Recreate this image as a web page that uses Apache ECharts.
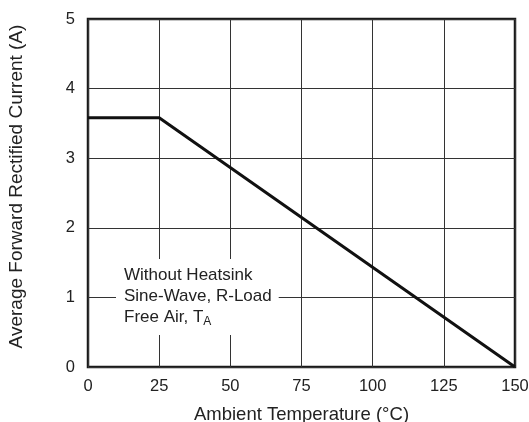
<!DOCTYPE html>
<html>
<head>
<meta charset="utf-8">
<script src="https://cdn.jsdelivr.net/npm/echarts@6/dist/echarts.min.js"></script>
<style>
html,body{margin:0;padding:0;background:#fff;}
#c{width:529px;height:422px;}
</style>
</head>
<body>
<div id="c"></div>
<script>
var temperature = [0, 25, 150];
var current = [3.58, 3.58, 0];
var xTicks = [0, 25, 50, 75, 100, 125, 150];
var yTicks = [0, 1, 2, 3, 4, 5];
var noteLines = ['Without Heatsink', 'Sine-Wave, R-Load', 'Free Air, T'];
var noteSub = 'A';

var chart = echarts.init(document.getElementById('c'), null, {renderer: 'canvas'});
var FONT = 'Liberation Sans, Arial, Helvetica, sans-serif';
var data = temperature.map(function (t, i) { return [t, current[i]]; });

chart.setOption({
  animation: false,
  backgroundColor: '#fff',
  grid: {left: 88, right: 14, top: 19, bottom: 55, show: true, borderColor: '#1a1a1a', borderWidth: 2.5,
         backgroundColor: 'transparent', containLabel: false, outerBoundsMode: 'none'},
  xAxis: {
    type: 'value', min: xTicks[0], max: xTicks[xTicks.length - 1], interval: 25,
    name: 'Ambient Temperature (°C)', nameLocation: 'middle', nameGap: 38,
    nameTextStyle: {fontFamily: FONT, fontSize: 18.5, color: '#222'},
    axisLine: {show: false}, axisTick: {show: false},
    axisLabel: {fontFamily: FONT, fontSize: 16.5, color: '#222', margin: 11},
    splitLine: {show: true, lineStyle: {color: '#333', width: 1}}
  },
  yAxis: {
    type: 'value', min: yTicks[0], max: yTicks[yTicks.length - 1], interval: 1,
    name: 'Average Forward Rectified Current (A)', nameLocation: 'middle', nameGap: 62,
    nameTextStyle: {fontFamily: FONT, fontSize: 19, color: '#222', padding: [0, 0, 0, 13]},
    axisLine: {show: false}, axisTick: {show: false},
    axisLabel: {fontFamily: FONT, fontSize: 16.5, color: '#222', margin: 13},
    splitLine: {show: true, lineStyle: {color: '#333', width: 1}}
  },
  graphic: [{
    type: 'text', left: 116, top: 259, z: 100,
    style: {
      text: noteLines[0] + '\n' + noteLines[1] + '\n' + noteLines[2] + '{s|' + noteSub + '}',
      font: '17px ' + FONT,
      fill: '#222',
      lineHeight: 21,
      backgroundColor: '#fff',
      padding: [6, 7, 7, 8],
      rich: {
        s: {fontSize: 12, fontFamily: FONT, fill: '#222', padding: [8, 0, 0, 0], lineHeight: 21, verticalAlign: 'bottom'}
      }
    }
  }],
  series: [{
    type: 'line', data: data, symbol: 'none', z: 10,
    lineStyle: {color: '#111', width: 3}
  }]
});
</script>
</body>
</html>
